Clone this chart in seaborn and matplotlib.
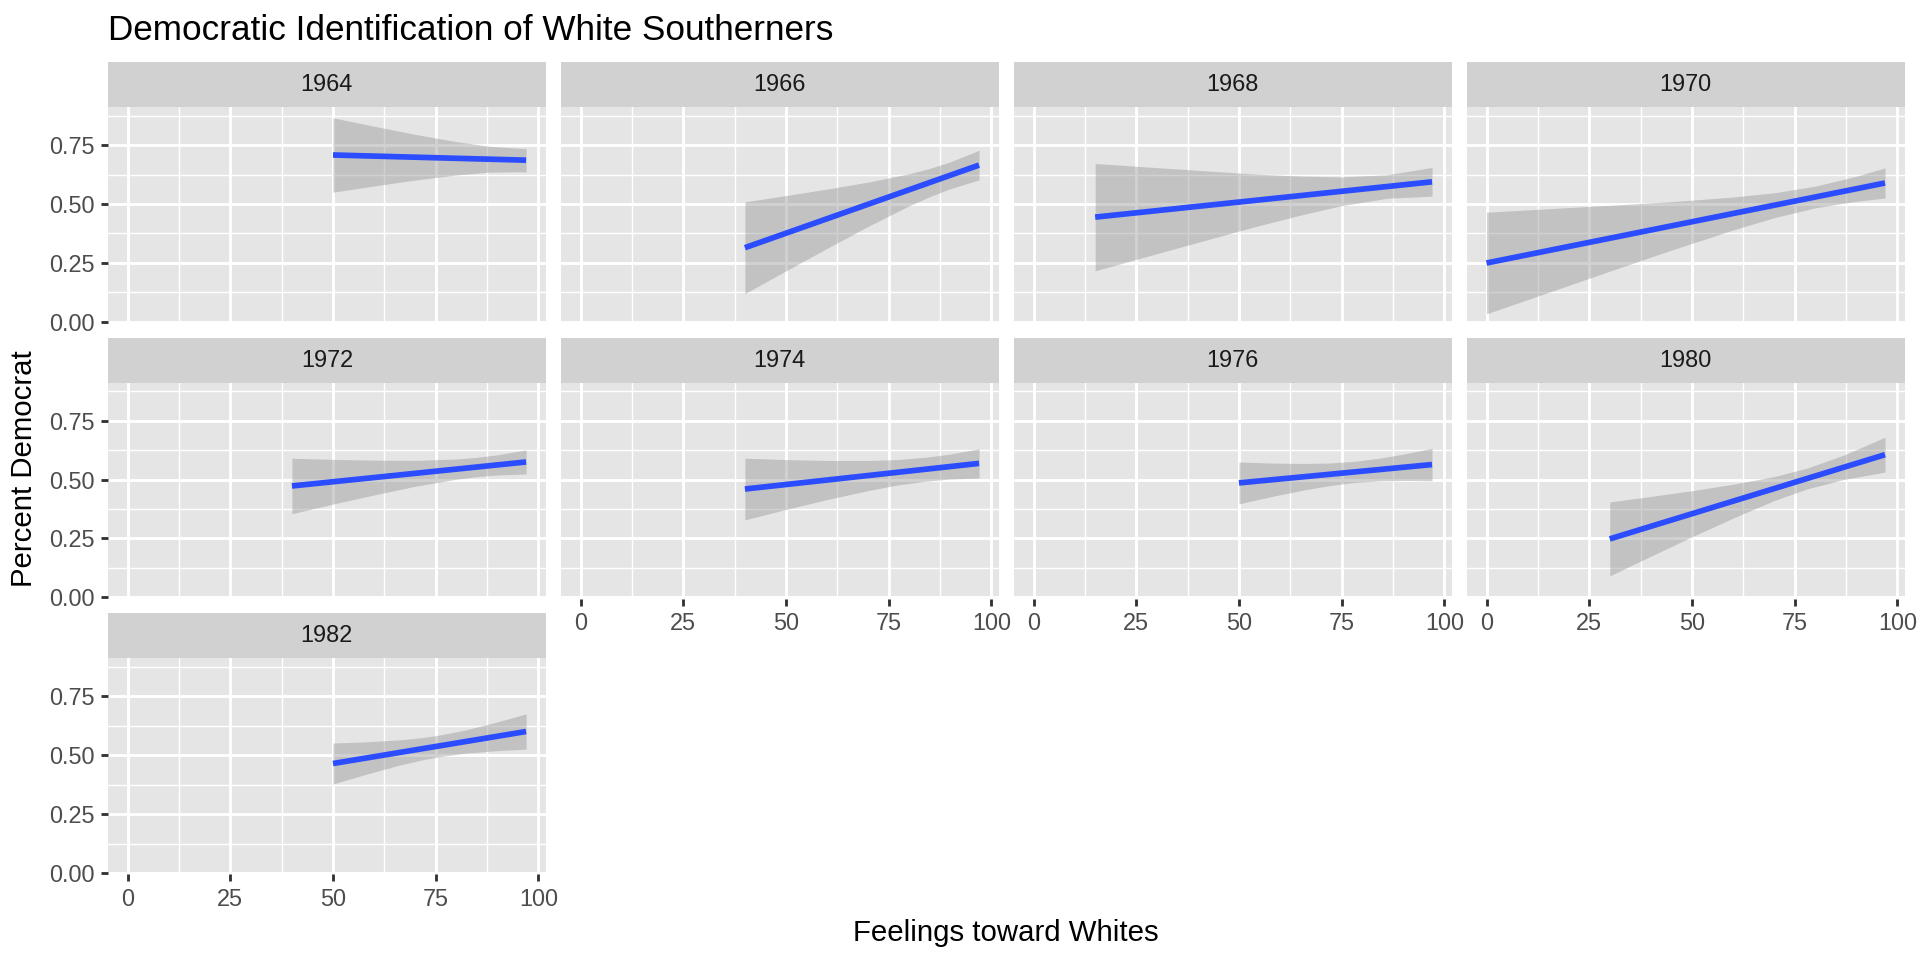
import numpy as np
import pandas as pd
import matplotlib
matplotlib.use("Agg")
import matplotlib.pyplot as plt
from matplotlib.patches import Rectangle
import seaborn as sns

# survey years (one facet each)
years = [1964, 1966, 1968, 1970, 1972, 1974, 1976, 1980, 1982]

# fitted line end points: feelings score -> share Democrat
fit_x0 = [50, 40, 15, 0, 40, 40, 50, 30, 50]
fit_x1 = [97, 97, 97, 97, 97, 97, 97, 97, 97]
fit_y0 = [0.708, 0.314, 0.444, 0.249, 0.473, 0.460, 0.486, 0.248, 0.465]
fit_y1 = [0.686, 0.665, 0.594, 0.589, 0.575, 0.569, 0.564, 0.606, 0.601]

# half width of the grey confidence band, read at a few x positions
band_x = {
    1964: [50, 60, 70, 80, 88, 95, 97],
    1966: [40, 50, 60, 70, 80, 85, 90, 97],
    1968: [15, 25, 35, 45, 55, 65, 75, 86, 97],
    1970: [0, 15, 30, 45, 60, 70, 80, 90, 97],
    1972: [40, 50, 60, 70, 80, 85, 90, 97],
    1974: [40, 50, 60, 70, 77, 84, 90, 97],
    1976: [50, 58, 66, 72, 78, 84, 90, 97],
    1980: [30, 40, 50, 60, 70, 78, 87, 97],
    1982: [50, 58, 66, 72, 76, 82, 90, 97],
}
band_hw = {
    1964: [0.158, 0.127, 0.097, 0.071, 0.055, 0.050, 0.050],
    1966: [0.195, 0.160, 0.126, 0.094, 0.068, 0.060, 0.057, 0.063],
    1968: [0.228, 0.198, 0.168, 0.138, 0.109, 0.083, 0.061, 0.050, 0.061],
    1970: [0.216, 0.178, 0.140, 0.103, 0.070, 0.053, 0.046, 0.053, 0.064],
    1972: [0.118, 0.095, 0.074, 0.055, 0.043, 0.041, 0.043, 0.051],
    1974: [0.131, 0.106, 0.083, 0.064, 0.054, 0.051, 0.053, 0.062],
    1976: [0.089, 0.071, 0.056, 0.048, 0.045, 0.048, 0.056, 0.069],
    1980: [0.157, 0.127, 0.098, 0.072, 0.051, 0.044, 0.052, 0.074],
    1982: [0.087, 0.069, 0.054, 0.047, 0.046, 0.049, 0.061, 0.075],
}

rows = []
for i, yr in enumerate(years):
    for bx, hw in zip(band_x[yr], band_hw[yr]):
        fit = np.interp(bx, [fit_x0[i], fit_x1[i]], [fit_y0[i], fit_y1[i]])
        rows.append({"year": yr, "x": bx, "fit": fit, "lo": fit - hw, "hi": fit + hw})
df = pd.DataFrame(rows)

PANEL_BG = "#E5E5E5"
STRIP_BG = "#D1D1D1"
BAND = "#8E8E8E"
LINE = "#2B4CFF"

sns.set_theme(style="darkgrid", rc={"axes.facecolor": PANEL_BG, "grid.color": "white"})
plt.rcParams["font.family"] = ["Liberation Sans", "DejaVu Sans"]


def draw_panel(data, color=None, **kws):
    ax = plt.gca()
    ax.fill_between(data["x"], data["lo"], data["hi"], color=BAND,
                    alpha=0.4, lw=0, zorder=2)
    sns.lineplot(data=data, x="x", y="fit", color=LINE, lw=2.13,
                 solid_capstyle="butt", ax=ax, zorder=3)


g = sns.FacetGrid(df, col="year", col_wrap=4, sharex=True, sharey=True,
                  height=2.5, aspect=1, despine=False)
g.map_dataframe(draw_panel)
g.set_titles("")
g.set_axis_labels("", "")

fig = g.figure
fig.set_size_inches(10, 5)
W, H = 1920, 960
left0, top0 = 107.7, 107.0
pw, ph = 438.3, 216.0
gap, strip_h = 14.67, 45.0

for i, ax in enumerate(g.axes.flat):
    r, c = divmod(i, 4)
    left = left0 + c * (pw + gap)
    top = top0 + r * (ph + strip_h + gap)
    ax.set_position([left / W, 1 - (top + ph) / H, pw / W, ph / H])

    ax.set_xlim(-4.85, 101.85)
    ax.set_ylim(-0.006, 0.912)
    ax.set_xticks([0, 25, 50, 75, 100])
    ax.set_xticklabels(["0", "25", "50", "75", "100"])
    ax.set_yticks([0, 0.25, 0.5, 0.75])
    ax.set_yticklabels(["0.00", "0.25", "0.50", "0.75"])
    ax.set_xticks([12.5, 37.5, 62.5, 87.5], minor=True)
    ax.set_yticks([0.125, 0.375, 0.625, 0.875], minor=True)
    ax.grid(which="major", color="white", lw=1.07)
    ax.grid(which="minor", color="white", lw=0.53)
    ax.set_axisbelow(True)
    ax.set_facecolor(PANEL_BG)
    for sp in ax.spines.values():
        sp.set_visible(False)
    ax.set_xlabel("")
    ax.set_ylabel("")

    bottom_axis = i >= 5
    left_axis = c == 0
    ax.tick_params(which="major", direction="out", length=2.75, width=1.07,
                   color="#333333", labelcolor="#4D4D4D", labelsize=8.8, pad=2.2,
                   bottom=bottom_axis, labelbottom=bottom_axis,
                   left=left_axis, labelleft=left_axis)
    for lab in ax.get_xticklabels():
        lab.set_visible(bottom_axis)
    for lab in ax.get_yticklabels():
        lab.set_visible(left_axis)
    ax.tick_params(which="minor", length=0)

    # ggplot style strip on top of each panel
    sh = strip_h / ph
    ax.add_patch(Rectangle((0, 1), 1, sh, transform=ax.transAxes, clip_on=False,
                           facecolor=STRIP_BG, edgecolor="none"))
    ax.text(0.5, 1 + sh / 2, str(years[i]), transform=ax.transAxes,
            ha="center", va="center", fontsize=8.8, color="#1A1A1A")

fig.text(left0 / W, 1 - 40 / H, "Democratic Identification of White Southerners",
         ha="left", va="baseline", fontsize=13.2, color="black")
fig.text((left0 + (left0 + 4 * pw + 3 * gap)) / 2 / W, 0.028, "Feelings toward Whites",
         ha="center", va="center", fontsize=11, color="black")
fig.text(0.0125, 1 - ((top0 - strip_h) + (top0 + 3 * ph + 2 * (strip_h + gap))) / 2 / H,
         "Percent Democrat", rotation=90, ha="center", va="center", fontsize=11,
         color="black")

fig.savefig("out.png", dpi=192, facecolor="white")
